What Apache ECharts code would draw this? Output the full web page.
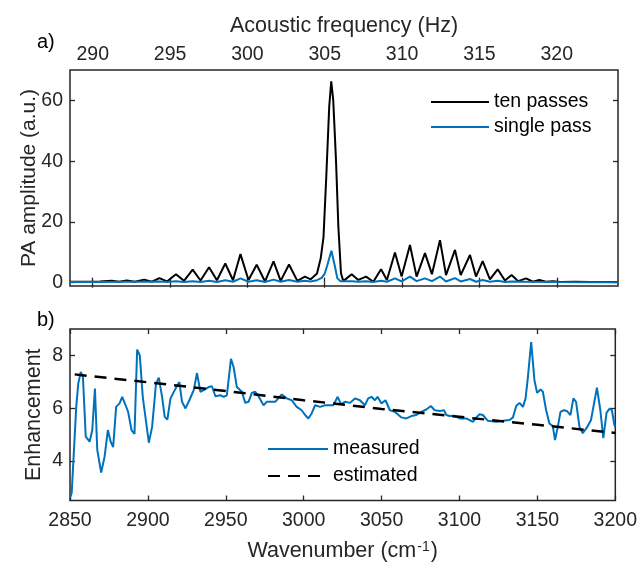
<!DOCTYPE html>
<html>
<head>
<meta charset="utf-8">
<script src="https://cdn.jsdelivr.net/npm/echarts@6/dist/echarts.min.js"></script>
<style>
html,body{margin:0;padding:0;background:#fff;}
#chart{width:640px;height:569px;}
</style>
</head>
<body>
<div id="chart"></div>
<script>
// ---- Panel a) : PA amplitude vs acoustic frequency ----
var freqTicks = [290, 295, 300, 305, 310, 315, 320];
var ampTicks = [0, 20, 40, 60];
var tenFreq = [288.53, 289.50, 290.47, 291.23, 291.70, 292.20, 292.73, 293.32, 293.83, 294.31, 294.80, 295.38, 295.90, 296.46, 296.97, 297.52, 298.03, 298.57, 299.07, 299.55, 300.07, 300.60, 301.14, 301.69, 302.15, 302.69, 303.23, 303.72, 304.09, 304.50, 304.74, 304.92, 305.10, 305.29, 305.42, 305.55, 305.73, 305.88, 306.05, 306.20, 306.74, 307.17, 307.67, 308.14, 308.64, 309.02, 309.54, 309.97, 310.51, 310.94, 311.48, 311.93, 312.45, 312.84, 313.42, 313.79, 314.39, 314.78, 315.21, 315.68, 316.18, 316.65, 317.08, 317.51, 318.01, 318.46, 318.87, 319.30, 319.75, 320.21, 321.18, 322.15, 323.12, 323.96];
var tenAmp = [0.3, 0.3, 0.4, 0.6, 0.3, 0.7, 0.3, 1.0, 0.3, 1.5, 0.4, 2.8, 0.6, 4.3, 0.7, 5.1, 0.8, 6.3, 0.8, 9.4, 0.9, 5.9, 0.4, 7.0, 0.6, 6.0, 0.6, 2.0, 1.1, 3.0, 8.0, 15, 35, 58, 66.3, 60, 40, 18.5, 3.1, 0.5, 2.8, 0.9, 2.0, 0.3, 4.4, 0.9, 9.9, 2.0, 12.4, 2.0, 9.7, 2.8, 14.0, 2.5, 10.8, 2.5, 9.1, 2.0, 7.1, 1.1, 4.4, 0.7, 2.5, 0.5, 1.4, 0.3, 0.9, 0.3, 0.5, 0.2, 0.3, 0.2, 0.2, 0.2];
var singleFreq = [288.53, 290.47, 292.20, 293.32, 294.31, 294.80, 295.38, 295.90, 296.46, 296.97, 297.52, 298.03, 298.57, 299.07, 299.55, 300.07, 300.60, 301.14, 301.69, 302.15, 302.69, 303.23, 303.72, 304.09, 304.50, 304.80, 305.00, 305.15, 305.43, 305.66, 305.81, 306.00, 306.74, 307.17, 307.67, 308.14, 308.64, 309.02, 309.54, 309.97, 310.51, 310.94, 311.48, 311.93, 312.45, 312.84, 313.42, 313.79, 314.39, 314.78, 315.21, 315.68, 316.18, 316.65, 317.08, 318.00, 320.00, 322.00, 323.96];
var singleAmp = [0.2, 0.25, 0.3, 0.3, 0.4, 0.25, 0.45, 0.2, 0.5, 0.2, 0.6, 0.2, 0.8, 0.3, 1.4, 0.3, 0.8, 0.2, 1.0, 0.3, 0.9, 0.3, 0.6, 0.4, 0.8, 1.6, 3.0, 5.5, 10.5, 5.3, 1.5, 0.5, 0.5, 0.3, 0.5, 0.2, 0.6, 0.3, 1.4, 0.4, 2.0, 0.5, 1.4, 0.5, 2.0, 0.4, 1.5, 0.4, 1.2, 0.3, 0.9, 0.3, 0.6, 0.2, 0.4, 0.3, 0.2, 0.15, 0.1];

// ---- Panel b) : enhancement vs wavenumber ----
var enhTicks = [4, 6, 8];
var measWave = [2850.0, 2851.1, 2854.0, 2855.3, 2856.9, 2858.3, 2860.1, 2862.6, 2864.3, 2866.0, 2867.5, 2870.0, 2872.2, 2874.3, 2876.1, 2877.7, 2879.6, 2881.8, 2883.5, 2885.7, 2887.3, 2889.5, 2891.4, 2893.1, 2894.8, 2896.7, 2900.6, 2902.7, 2905.2, 2907.0, 2909.1, 2910.8, 2912.5, 2914.5, 2917.7, 2920.2, 2921.9, 2924.1, 2926.6, 2929.4, 2931.5, 2933.7, 2935.8, 2939.0, 2941.1, 2943.3, 2946.5, 2948.6, 2950.7, 2953.3, 2955.0, 2957.1, 2960.3, 2962.5, 2964.6, 2966.7, 2968.9, 2971.0, 2974.2, 2976.3, 2981.7, 2985.9, 2989.1, 2992.3, 2995.5, 2998.7, 3000.9, 3003.0, 3005.1, 3007.3, 3010.5, 3013.7, 3019.0, 3021.8, 3023.9, 3026.5, 3029.7, 3032.9, 3036.1, 3039.3, 3041.4, 3043.5, 3045.7, 3047.4, 3049.9, 3052.5, 3055.3, 3058.5, 3062.7, 3065.9, 3069.1, 3072.3, 3075.5, 3078.7, 3081.6, 3084.1, 3087.3, 3090.1, 3091.5, 3093.7, 3096.9, 3100.1, 3104.4, 3108.6, 3110.8, 3112.9, 3115.0, 3118.2, 3123.6, 3127.8, 3132.1, 3134.3, 3136.4, 3138.5, 3140.7, 3142.4, 3143.9, 3146.0, 3148.1, 3149.8, 3152.0, 3153.5, 3155.6, 3157.7, 3159.9, 3161.3, 3163.1, 3164.8, 3166.9, 3169.0, 3171.2, 3173.1, 3174.8, 3177.0, 3179.1, 3181.8, 3184.4, 3188.2, 3190.4, 3192.3, 3194.4, 3196.5, 3197.8, 3199.4, 3200.0];
var measEnh = [2.6, 2.8, 6.05, 6.93, 7.37, 7.18, 4.92, 4.73, 5.17, 6.74, 4.42, 3.56, 4.16, 5.17, 4.73, 4.52, 6.05, 6.18, 6.43, 6.11, 5.86, 5.17, 5.02, 8.22, 8.0, 6.43, 4.69, 5.29, 6.93, 7.16, 6.43, 5.67, 5.57, 6.37, 6.74, 6.99, 6.24, 5.99, 6.30, 6.68, 7.33, 6.62, 6.68, 6.80, 6.83, 6.45, 6.49, 6.43, 6.49, 7.87, 7.56, 6.80, 6.62, 6.20, 6.24, 6.58, 6.62, 6.45, 6.11, 6.24, 6.24, 6.52, 6.37, 6.30, 6.05, 5.92, 5.74, 5.61, 5.80, 6.11, 6.05, 6.11, 6.11, 6.43, 6.15, 6.24, 6.20, 6.37, 6.30, 6.11, 6.37, 6.43, 6.30, 6.43, 6.18, 6.30, 5.92, 5.86, 5.65, 5.61, 5.70, 5.74, 5.86, 5.95, 6.08, 5.92, 5.89, 5.92, 5.74, 5.70, 5.71, 5.61, 5.61, 5.48, 5.65, 5.77, 5.74, 5.52, 5.48, 5.52, 5.55, 5.65, 6.08, 6.20, 6.05, 6.37, 7.18, 8.50, 7.06, 6.58, 6.71, 6.62, 5.92, 5.42, 5.32, 4.79, 5.29, 5.86, 5.92, 5.89, 5.74, 6.37, 6.24, 5.29, 5.05, 5.27, 5.55, 6.78, 5.92, 4.86, 5.83, 5.99, 5.92, 5.36, 5.30];
var estWave = [2853, 2900, 2950, 3000, 3050, 3100, 3150, 3200];
var estEnh = [7.28, 6.98, 6.65, 6.30, 5.97, 5.67, 5.37, 5.06];

function zip(xs, ys) { return xs.map(function (x, i) { return [x, ys[i]]; }); }

var FONT = 'Liberation Sans, Arial, sans-serif';
var AX = '#262626';
var BLUE = '#0072BD';

function tickOnlyAxis(extra) {
  var base = {
    type: 'value',
    axisLine: { show: false },
    axisTick: { show: true, inside: true, length: 5, lineStyle: { color: AX, width: 1.3 } },
    axisLabel: { show: false },
    splitLine: { show: false }
  };
  return Object.assign(base, extra);
}

var chart = echarts.init(document.getElementById('chart'), null, { renderer: 'canvas' });
chart.setOption({
  animation: false,
  backgroundColor: '#fff',
  textStyle: { fontFamily: FONT },
  grid: [
    { left: 70, top: 70, width: 548, height: 216, show: true, borderColor: AX, borderWidth: 1.5, backgroundColor: 'transparent' },
    { left: 70, top: 329, width: 548, height: 171.5, show: true, borderColor: AX, borderWidth: 1.5, backgroundColor: 'transparent' }
  ],
  xAxis: [
    tickOnlyAxis({
      gridIndex: 0, position: 'top', min: 288.53, max: 323.96,
      axisTick: { show: true, inside: true, length: 5, customValues: freqTicks, lineStyle: { color: AX, width: 1.3 } },
      axisLabel: { show: true, customValues: freqTicks, fontSize: 19.5, color: AX, margin: 5, fontFamily: FONT },
      name: 'Acoustic frequency (Hz)', nameLocation: 'middle', nameGap: 33, nameMoveOverlap: false,
      nameTextStyle: { fontSize: 21.5, color: AX, fontFamily: FONT }
    }),
    tickOnlyAxis({
      gridIndex: 0, position: 'bottom', min: 288.53, max: 323.96,
      axisTick: { show: true, inside: true, length: 5, customValues: freqTicks, lineStyle: { color: AX, width: 1.3 } }
    }),
    tickOnlyAxis({
      gridIndex: 1, position: 'bottom', min: 2850, max: 3200, interval: 50,
      axisLabel: { show: true, fontSize: 19.5, color: AX, margin: 10, fontFamily: FONT,
        formatter: function (v) { return String(v); } },
      name: '{n|Wavenumber (cm}{s|-1}{n|)}', nameLocation: 'middle', nameGap: 40, nameMoveOverlap: false,
      nameTextStyle: {
        color: AX, fontFamily: FONT, fontSize: 21.5,
        rich: {
          n: { fontSize: 21.5, color: AX, fontFamily: FONT },
          s: { fontSize: 14, color: AX, fontFamily: FONT, verticalAlign: 'top', padding: [0, 1, 0, 1] }
        }
      }
    }),
    tickOnlyAxis({ gridIndex: 1, position: 'top', min: 2850, max: 3200, interval: 50 })
  ],
  yAxis: [
    tickOnlyAxis({
      gridIndex: 0, position: 'left', min: -1.1, max: 70,
      axisTick: { show: true, inside: true, length: 5, customValues: ampTicks, lineStyle: { color: AX, width: 1.3 } },
      axisLabel: { show: true, customValues: ampTicks, fontSize: 19.5, color: AX, margin: 7, fontFamily: FONT },
      name: 'PA amplitude (a.u.)', nameLocation: 'middle', nameGap: 30, nameMoveOverlap: false,
      nameTextStyle: { fontSize: 21, color: AX, fontFamily: FONT }
    }),
    tickOnlyAxis({
      gridIndex: 0, position: 'right', min: -1.1, max: 70,
      axisTick: { show: true, inside: true, length: 5, customValues: ampTicks, lineStyle: { color: AX, width: 1.3 } }
    }),
    tickOnlyAxis({
      gridIndex: 1, position: 'left', min: 2.5, max: 9,
      axisTick: { show: true, inside: true, length: 5, customValues: enhTicks, lineStyle: { color: AX, width: 1.3 } },
      axisLabel: { show: true, customValues: enhTicks, fontSize: 19.5, color: AX, margin: 7, fontFamily: FONT },
      name: 'Enhancement', nameLocation: 'middle', nameGap: 25, nameMoveOverlap: false,
      nameTextStyle: { fontSize: 21.5, color: AX, fontFamily: FONT }
    }),
    tickOnlyAxis({
      gridIndex: 1, position: 'right', min: 2.5, max: 9,
      axisTick: { show: true, inside: true, length: 5, customValues: enhTicks, lineStyle: { color: AX, width: 1.3 } }
    })
  ],
  legend: [
    {
      data: ['ten passes', 'single pass'], orient: 'vertical', left: 430, top: 92,
      itemWidth: 58, itemHeight: 14, itemGap: 5, padding: 0,
      itemStyle: { opacity: 0 },
      textStyle: { fontSize: 19.5, color: '#000', fontFamily: FONT }
    },
    {
      data: ['measured', 'estimated'], orient: 'vertical', left: 267, top: 439,
      itemWidth: 60, itemHeight: 14, itemGap: 7, padding: 0,
      itemStyle: { opacity: 0 },
      textStyle: { fontSize: 19.5, color: '#000', fontFamily: FONT }
    }
  ],
  graphic: [
    { type: 'text', left: 37, top: 32, style: { text: 'a)', fontSize: 20, fill: '#000', fontFamily: FONT } },
    { type: 'text', left: 37, top: 310, style: { text: 'b)', fontSize: 20, fill: '#000', fontFamily: FONT } }
  ],
  series: [
    {
      name: 'ten passes', type: 'line', xAxisIndex: 0, yAxisIndex: 0,
      data: zip(tenFreq, tenAmp), symbol: 'none', showSymbol: false,
      color: '#000', lineStyle: { color: '#000', width: 2 }
    },
    {
      name: 'single pass', type: 'line', xAxisIndex: 0, yAxisIndex: 0,
      data: zip(singleFreq, singleAmp), symbol: 'none', showSymbol: false,
      color: BLUE, lineStyle: { color: BLUE, width: 2 }
    },
    {
      name: 'measured', type: 'line', xAxisIndex: 2, yAxisIndex: 2,
      data: zip(measWave, measEnh), symbol: 'none', showSymbol: false,
      color: BLUE, lineStyle: { color: BLUE, width: 2 }
    },
    {
      name: 'estimated', type: 'line', xAxisIndex: 2, yAxisIndex: 2,
      data: zip(estWave, estEnh), symbol: 'none', showSymbol: false,
      color: '#000', lineStyle: { color: '#000', width: 2.5, type: [12, 8] }
    }
  ]
});
</script>
</body>
</html>
